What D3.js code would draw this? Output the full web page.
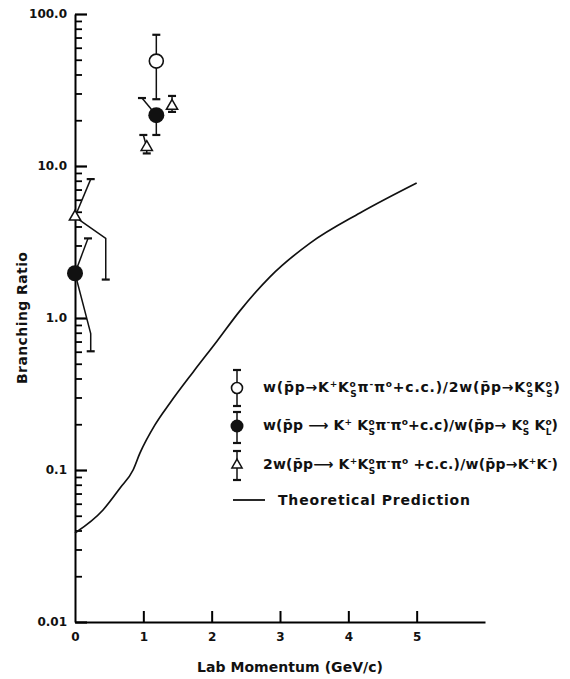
<!DOCTYPE html>
<html lang="en">
<head>
<meta charset="utf-8">
<title>Branching Ratio vs Lab Momentum</title>
<script src="https://d3js.org/d3.v7.min.js"></script>
<style>
  body { margin: 0; background: #fff; }
  svg { display: block; }
  .lbl { font-family: "DejaVu Sans", sans-serif; font-weight: bold; fill: #111; }
</style>
</head>
<body>
<div id="chart"></div>
<script>
// Theoretical prediction
var theoryMomentum = [0, 0.41, 0.66, 0.85, 0.95, 1.17, 1.39, 1.73, 2.08, 2.41, 2.85, 3.44, 4.17, 5.0];
var theoryRatio    = [0.0385, 0.0546, 0.0762, 0.1, 0.129, 0.198, 0.276, 0.442, 0.706, 1.11, 1.86, 3.11, 4.91, 7.73];

// measured points, one array pair per symbol
var openMomentum   = [1.19];
var openRatio      = [49];
var filledMomentum = [0, 1.19];
var filledRatio    = [1.97, 21.6];
var triMomentum    = [0, 1.05, 1.42];
var triRatio       = [4.63, 13.3, 24.8];

// error bars, drawn as polylines from the point to the capped end
var errorPaths = [
  [[1.19, 49], [1.19, 73]],
  [[1.19, 49], [1.19, 27.5]],
  [[1.19, 21.6], [0.98, 28]],
  [[1.19, 21.6], [1.19, 16]],
  [[0, 1.97], [0.19, 3.34]],
  [[0, 1.97], [0.23, 0.79], [0.23, 0.604]],
  [[0, 4.63], [0.23, 8.2]],
  [[0, 4.63], [0.45, 3.34], [0.45, 1.79]],
  [[1.05, 13.3], [1.0, 16]],
  [[1.05, 13.3], [1.05, 12.1]],
  [[1.42, 24.8], [1.42, 28.9]],
  [[1.42, 24.8], [1.42, 22.7]]
];

// axis ticks
var xTickValues = [0, 1, 2, 3, 4, 5];
var yTickValues = [0.01, 0.1, 1, 10, 100];
var yTickLabels = ["0.01", "0.1", "1.0", "10.0", "100.0"];
var yMinorValues = [];
[0.01, 0.1, 1, 10].forEach(function(d) {
  for (var k = 2; k <= 9; k++) yMinorValues.push(d * k);
});

// legend text; "^a_b" = stacked super/subscript
var legendRows = [
  ["w(p\u0304p\u2192K", "^+", "K", "^o_S", "\u03c0", "^-", "\u03c0", "^o", "+c.c.)/2w(p\u0304p\u2192K", "^o_S", "K", "^o_S", ")"],
  ["w(p\u0304p \u27f6 K", "^+", " K", "^o_S", "\u03c0", "^-", "\u03c0", "^o", "+c.c)/w(p\u0304p\u2192 K", "^o_S", " K", "^o_L", ")"],
  ["2w(p\u0304p\u27f6 K", "^+", "K", "^o_S", "\u03c0", "^-", "\u03c0", "^o", " +c.c.)/w(p\u0304p\u2192K", "^+", "K", "^-", ")"]
];
var legendLengths = [297, 295, 295];

var width = 570, height = 679;

var svg = d3.select("#chart").append("svg")
    .attr("width", width)
    .attr("height", height);

var x = d3.scaleLinear().domain([0, 6]).range([75, 485]);
var y = d3.scaleLog().domain([0.01, 100]).range([622, 14]);

// Y axis: minor ticks first, then majors with labels
svg.append("g")
    .attr("transform", "translate(" + x(0) + ",0)")
    .call(d3.axisLeft(y).tickValues(yMinorValues).tickSizeInner(-7).tickSizeOuter(0).tickFormat(function() { return ""; }))
    .call(function(g) {
      g.select(".domain").remove();
      g.selectAll("line").attr("stroke-width", 1.8);
    });

var yAxis = svg.append("g")
    .attr("transform", "translate(" + x(0) + ",0)")
    .call(d3.axisLeft(y).tickValues(yTickValues).tickSizeInner(-12).tickSizeOuter(0).tickPadding(8)
      .tickFormat(function(d, i) { return yTickLabels[i]; }));
yAxis.select(".domain").attr("stroke-width", 2);
yAxis.selectAll("line").attr("stroke-width", 2.2);
yAxis.selectAll("text").attr("class", "lbl").attr("font-size", 12).attr("fill", "#111");
yAxis.attr("font-family", null).attr("font-size", null);

// X axis
var xAxis = svg.append("g")
    .attr("transform", "translate(0," + y(0.01) + ")")
    .call(d3.axisBottom(x).tickValues(xTickValues).tickSizeInner(-11).tickSizeOuter(0).tickPadding(10)
      .tickFormat(d3.format("d")));
xAxis.select(".domain").attr("stroke-width", 2);
xAxis.selectAll("line").attr("stroke-width", 2);
xAxis.selectAll(".tick").filter(function(d) { return d === 0; }).select("line").remove();
xAxis.selectAll("text").attr("class", "lbl").attr("font-size", 12).attr("fill", "#111");
xAxis.attr("font-family", null).attr("font-size", null);

// axis titles
svg.append("text")
    .attr("class", "lbl")
    .attr("x", 290).attr("y", 672)
    .attr("font-size", 14)
    .attr("text-anchor", "middle")
    .attr("textLength", 186).attr("lengthAdjust", "spacing")
    .text("Lab Momentum (GeV/c)");

svg.append("text")
    .attr("class", "lbl")
    .attr("transform", "translate(27,318) rotate(-90)")
    .attr("font-size", 14)
    .attr("text-anchor", "middle")
    .attr("textLength", 132).attr("lengthAdjust", "spacing")
    .text("Branching Ratio");

// theory curve
var theoryLine = d3.line()
    .x(function(d) { return x(d[0]); })
    .y(function(d) { return y(d[1]); })
    .curve(d3.curveMonotoneX);

svg.append("path")
    .attr("d", theoryLine(d3.zip(theoryMomentum, theoryRatio)))
    .attr("fill", "none")
    .attr("stroke", "#111")
    .attr("stroke-width", 1.7);

// error bars
var errLine = d3.line()
    .x(function(d) { return x(d[0]); })
    .y(function(d) { return y(d[1]); });

svg.selectAll(".err")
    .data(errorPaths)
  .enter().append("path")
    .attr("class", "err")
    .attr("d", errLine)
    .attr("fill", "none")
    .attr("stroke", "#111")
    .attr("stroke-width", 1.5);

svg.selectAll(".cap")
    .data(errorPaths)
  .enter().append("line")
    .attr("class", "cap")
    .attr("x1", function(d) { return x(d[d.length - 1][0]) - 4; })
    .attr("x2", function(d) { return x(d[d.length - 1][0]) + 4; })
    .attr("y1", function(d) { return y(d[d.length - 1][1]); })
    .attr("y2", function(d) { return y(d[d.length - 1][1]); })
    .attr("stroke", "#111")
    .attr("stroke-width", 2.2);

// symbols
svg.selectAll(".open")
    .data(d3.zip(openMomentum, openRatio))
  .enter().append("circle")
    .attr("cx", function(d) { return x(d[0]); })
    .attr("cy", function(d) { return y(d[1]); })
    .attr("r", 7)
    .attr("fill", "#fff").attr("stroke", "#111").attr("stroke-width", 1.6);

svg.selectAll(".filled")
    .data(d3.zip(filledMomentum, filledRatio))
  .enter().append("circle")
    .attr("cx", function(d) { return x(d[0]); })
    .attr("cy", function(d) { return y(d[1]); })
    .attr("r", 8)
    .attr("fill", "#111");

var tri = d3.symbol().type(d3.symbolTriangle).size(55);
svg.selectAll(".tri")
    .data(d3.zip(triMomentum, triRatio))
  .enter().append("path")
    .attr("d", tri)
    .attr("transform", function(d) { return "translate(" + x(d[0]) + "," + y(d[1]) + ")"; })
    .attr("fill", "#fff").attr("stroke", "#111").attr("stroke-width", 1.5);

// legend
var legX = 237, textX = 263;
var rowY = [388, 426, 465, 500];
var leg = svg.append("g");

function legendBar(cy, up, down) {
  leg.append("line").attr("x1", legX).attr("x2", legX).attr("y1", cy - up).attr("y2", cy + down)
      .attr("stroke", "#111").attr("stroke-width", 1.5);
  [cy - up, cy + down].forEach(function(v) {
    leg.append("line").attr("x1", legX - 4).attr("x2", legX + 4).attr("y1", v).attr("y2", v)
        .attr("stroke", "#111").attr("stroke-width", 2.2);
  });
}

legendBar(rowY[0], 18, 18);
leg.append("circle").attr("cx", legX).attr("cy", rowY[0]).attr("r", 5.5)
    .attr("fill", "#fff").attr("stroke", "#111").attr("stroke-width", 1.6);
legendBar(rowY[1], 14, 17);
leg.append("circle").attr("cx", legX).attr("cy", rowY[1]).attr("r", 6.5).attr("fill", "#111");
legendBar(rowY[2], 14, 15);
leg.append("path").attr("d", d3.symbol().type(d3.symbolTriangle).size(45)())
    .attr("transform", "translate(" + legX + "," + rowY[2] + ")")
    .attr("fill", "#fff").attr("stroke", "#111").attr("stroke-width", 1.5);
leg.append("line").attr("x1", 233).attr("x2", 265).attr("y1", rowY[3]).attr("y2", rowY[3])
    .attr("stroke", "#111").attr("stroke-width", 1.8);

function formula(yy, parts, len) {
  var t = leg.append("text").attr("class", "lbl").attr("x", textX).attr("y", yy).attr("font-size", 14);
  var cur = 0;
  parts.forEach(function(p) {
    if (p[0] === "^") {
      var bits = p.slice(1).split("_");
      var sup = t.append("tspan").attr("dy", -5 - cur).attr("font-size", 9).text(bits[0]);
      cur = -5;
      if (bits[1]) {
        var w = sup.node().getComputedTextLength();
        t.append("tspan").attr("dx", -w).attr("dy", 10).attr("font-size", 9).text(bits[1]);
        cur = 5;
      }
    } else {
      t.append("tspan").attr("dy", -cur).text(p);
      cur = 0;
    }
  });
  t.attr("textLength", len).attr("lengthAdjust", "spacing");
}

legendRows.forEach(function(r, i) { formula(rowY[i] + 4, r, legendLengths[i]); });

leg.append("text").attr("class", "lbl")
    .attr("x", 278).attr("y", rowY[3] + 5)
    .attr("font-size", 14)
    .attr("textLength", 192).attr("lengthAdjust", "spacing")
    .text("Theoretical Prediction");
</script>
</body>
</html>
